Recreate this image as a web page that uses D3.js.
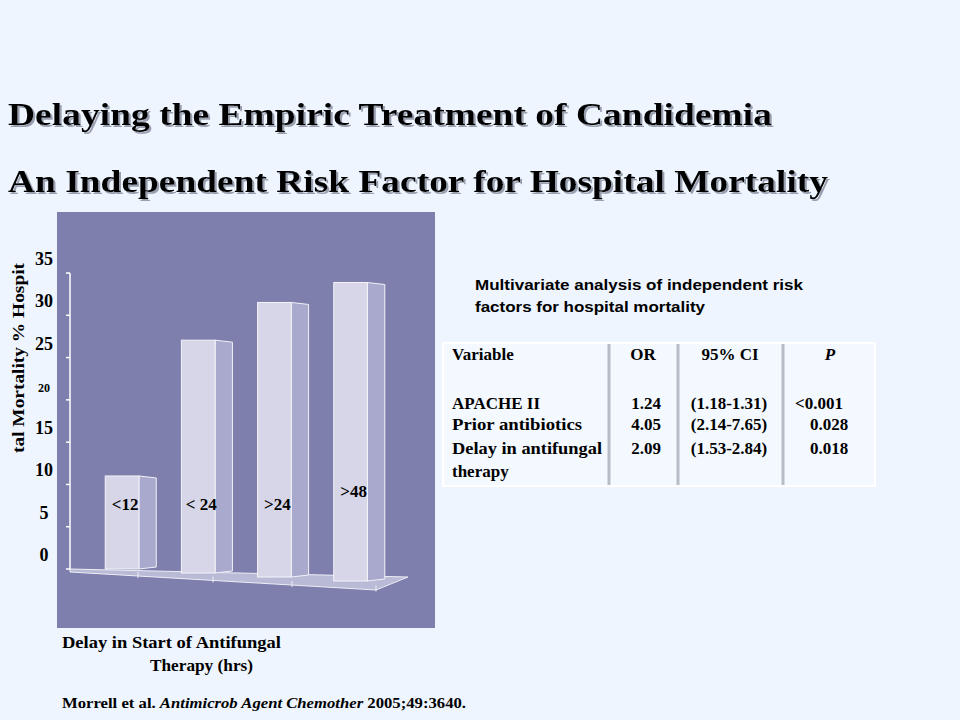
<!DOCTYPE html>
<html><head><meta charset="utf-8">
<script src="https://cdn.jsdelivr.net/npm/d3@7"></script>
<style>
body{margin:0;background:#eef5fe;}
svg{font-family:"Liberation Serif","Times New Roman",serif;font-weight:bold;}
</style></head><body>
<svg id="c" width="960" height="720"></svg>
<script>
// data
var categories = ['<12', '< 24', '>24', '>48'];
var mortality = [11, 27.2, 31.8, 34.3];
var yTicks = [0, 5, 10, 15, 20, 25, 30, 35];
var tableHead = ['Variable', 'OR', '95% CI', 'P'];
var tableVars = ['APACHE II', 'Prior antibiotics', 'Delay in antifungal', ' therapy'];
var tableOR = ['1.24', '4.05', '2.09', ''];
var tableCI = ['(1.18-1.31)', '(2.14-7.65)', '(1.53-2.84)', ''];
var tableP = ['<0.001', '0.028', '0.018', ''];

var svg = d3.select('#c');
var defs = svg.append('defs');
var f = defs.append('filter').attr('id', 'sh').attr('x', '-5%').attr('y', '-20%').attr('width', '110%').attr('height', '150%');
f.append('feDropShadow').attr('dx', 2).attr('dy', 2).attr('stdDeviation', 0.6).attr('flood-color', '#9aa0b0');

// titles
[['Delaying the Empiric Treatment of Candidemia', 125, 764], ['An Independent Risk Factor for Hospital Mortality', 192, 820]].forEach(function(t){
    svg.append('text').attr('x', 8).attr('y', t[1]).attr('font-size', 31).attr('fill', '#000')
        .attr('textLength', t[2]).attr('lengthAdjust', 'spacingAndGlyphs').attr('filter', 'url(#sh)').text(t[0]);
});

// chart panel
svg.append('rect').attr('x', 57).attr('y', 212).attr('width', 378).attr('height', 416).attr('fill', '#7e7fac');

var y = d3.scaleLinear().domain([0, 35]).range([569, 273]);
var x = d3.scaleBand().domain(categories).range([90, 400]).paddingInner(0.33).paddingOuter(0.2);
var skew = d3.scaleLinear().domain([0, 3]).range([0, 12]); // floor tilt per bar

// floor
svg.append('polygon').attr('points', '70,569 408,577 376,590 70,572')
    .attr('fill', '#b8bad6').attr('stroke', '#eeeef6');
[138, 213, 292, 376].forEach(function(px, i){
    svg.append('line').attr('x1', px).attr('x2', px).attr('y1', 572 + i * 4.5).attr('y2', 578 + i * 4.5).attr('stroke', '#eeeef6');
});

// y axis
svg.append('line').attr('x1', 70).attr('x2', 70).attr('y1', y(35)).attr('y2', y(0)).attr('stroke', '#fff').attr('stroke-width', 1.5);
yTicks.forEach(function(t){
    svg.append('line').attr('x1', 66).attr('x2', 70).attr('y1', y(t)).attr('y2', y(t)).attr('stroke', '#fff').attr('stroke-width', 1.5);
    svg.append('text').attr('x', 44).attr('y', y(t) - 8).attr('text-anchor', 'middle')
        .attr('font-size', t === 20 ? 12 : 18).attr('fill', '#000').text(t);
});
svg.append('text').attr('transform', 'translate(24,358) rotate(-90)').attr('text-anchor', 'middle')
    .attr('font-size', 17).attr('fill', '#000').attr('textLength', 190).attr('lengthAdjust', 'spacingAndGlyphs')
    .text('tal Mortality % Hospit');

// 3D bars
var bars = svg.selectAll('g.bar').data(categories).enter().append('g');
bars.each(function(c, i){
    var g = d3.select(this);
    var x0 = x(c), w = x.bandwidth() * 0.66, sd = x.bandwidth() * 0.34;
    var base = y(0) + skew(i), top = y(mortality[i]) + skew(i) * 0.3;
    g.append('polygon').attr('points', [[x0 + w, top], [x0 + w + sd, top + 2], [x0 + w + sd, base - 2], [x0 + w, base]].join(' '))
        .attr('fill', '#a8a9cc').attr('stroke', '#f2f2f8');
    g.append('rect').attr('x', x0).attr('y', top).attr('width', w).attr('height', base - top)
        .attr('fill', '#d6d6e8').attr('stroke', '#f4f4fa');
    g.append('text').attr('x', x0 + w / 2 + 3).attr('y', i === 3 ? 497 : 510).attr('text-anchor', 'middle')
        .attr('font-size', 17).attr('fill', '#000').text(c);
});

// x title and citation
function fit(t, len){ return t.attr('textLength', len).attr('lengthAdjust', 'spacingAndGlyphs'); }
fit(svg.append('text').attr('x', 62).attr('y', 648).attr('font-size', 17).text('Delay in Start of Antifungal'), 219);
fit(svg.append('text').attr('x', 150).attr('y', 671).attr('font-size', 17).text('Therapy (hrs)'), 103);
var cite = fit(svg.append('text').attr('x', 62).attr('y', 708).attr('font-size', 15), 404);
cite.append('tspan').text('Morrell et al. ');
cite.append('tspan').attr('font-style', 'italic').text('Antimicrob Agent Chemother');
cite.append('tspan').text(' 2005;49:3640.');

// table
var sans = '"Liberation Sans",Arial,sans-serif';
fit(svg.append('text').attr('x', 475).attr('y', 290).attr('font-family', sans).attr('font-size', 15).text('Multivariate analysis of independent risk'), 328);
fit(svg.append('text').attr('x', 475).attr('y', 312).attr('font-family', sans).attr('font-size', 15).text('factors for hospital mortality'), 230);
svg.append('rect').attr('x', 443).attr('y', 343).attr('width', 432).attr('height', 143).attr('fill', '#f4f9ff').attr('stroke', '#fff').attr('stroke-width', 2);
[609, 678, 783].forEach(function(px){
    svg.append('line').attr('x1', px).attr('x2', px).attr('y1', 344).attr('y2', 485).attr('stroke', '#b8bcc6').attr('stroke-width', 3);
});
var colX = [452, 643, 730, 830], colA = ['start', 'middle', 'middle', 'middle'];
tableHead.forEach(function(h, i){
    svg.append('text').attr('x', colX[i]).attr('y', 360).attr('text-anchor', colA[i]).attr('font-size', 17)
        .attr('font-style', i === 3 ? 'italic' : 'normal').text(h);
});
var rowY = [409, 430, 454, 477];
tableVars.forEach(function(v, r){
    var t = svg.append('text').attr('x', 452).attr('y', rowY[r]).attr('font-size', 17).text(v);
    if (r === 1) fit(t, 130); if (r === 2) fit(t, 150);
    svg.append('text').attr('x', 646).attr('y', rowY[r]).attr('text-anchor', 'middle').attr('font-size', 17).text(tableOR[r]);
    svg.append('text').attr('x', 729).attr('y', rowY[r]).attr('text-anchor', 'middle').attr('font-size', 17).text(tableCI[r]);
    svg.append('text').attr('x', r === 0 ? 819 : 829).attr('y', rowY[r]).attr('text-anchor', 'middle').attr('font-size', 17).text(tableP[r]);
});
</script></body></html>
